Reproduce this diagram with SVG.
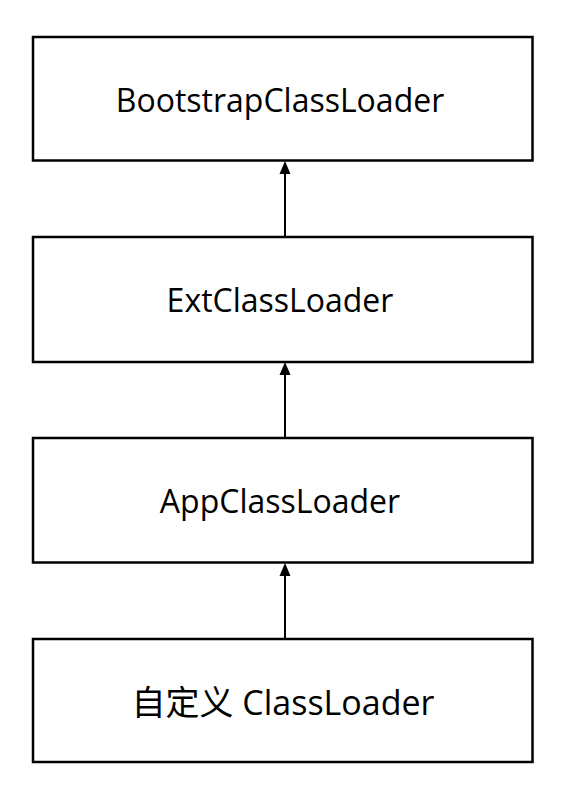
<svg xmlns="http://www.w3.org/2000/svg" width="564" height="800" viewBox="0 0 564 800">
<defs>
<style>
.box{fill:#fff;stroke:#000;stroke-width:2.5}
.lbl{font-family:"Open Sans","Noto Sans CJK SC",sans-serif;font-size:32px;fill:#000;text-anchor:middle}
.edge{stroke:#000;stroke-width:2;fill:none}
.head{fill:#000}
</style>
</defs>
<rect width="564" height="800" fill="#fff"/>
<g id="connectors">
<path class="edge" d="M285,237 V170"/>
<path class="head" d="M285,161 L279.5,174 L290.5,174 Z"/>
<path class="edge" d="M285,438 V371"/>
<path class="head" d="M285,362 L279.5,375 L290.5,375 Z"/>
<path class="edge" d="M285,639 V572"/>
<path class="head" d="M285,563 L279.5,576 L290.5,576 Z"/>
</g>
<g id="bootstrap">
<rect class="box" x="33" y="37" width="499.5" height="123.5"/>
<text class="lbl" x="280" y="112">BootstrapClassLoader</text>
</g>
<g id="ext">
<rect class="box" x="33" y="237" width="499.5" height="125"/>
<text class="lbl" x="280" y="312">ExtClassLoader</text>
</g>
<g id="app">
<rect class="box" x="33" y="438" width="499.5" height="124.5"/>
<text class="lbl" x="280" y="513">AppClassLoader</text>
</g>
<g id="custom">
<rect class="box" x="33" y="639" width="499.5" height="123"/>
<text class="lbl" x="283" y="715" style="font-size:34px">自定义 ClassLoader</text>
</g>
</svg>
